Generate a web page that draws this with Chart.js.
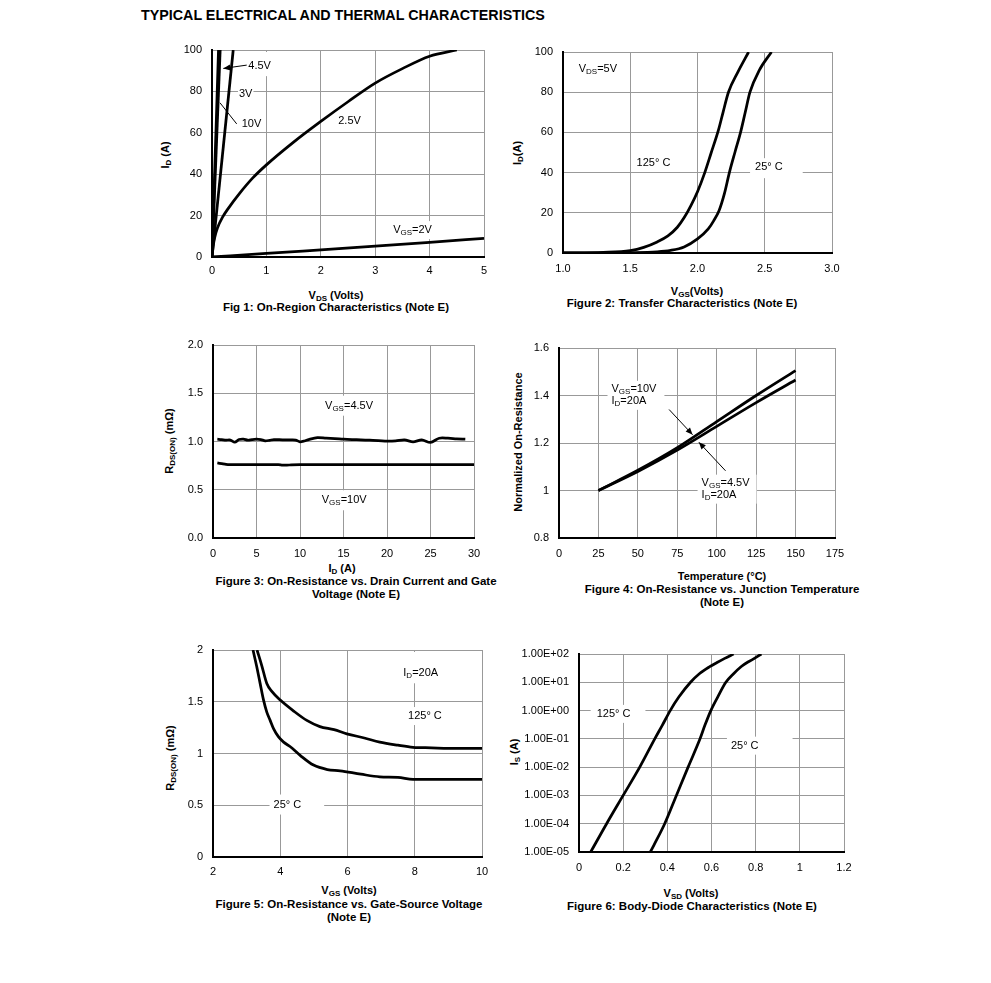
<!DOCTYPE html>
<html lang="en">
<head>
<meta charset="UTF-8">
<title>Typical Electrical and Thermal Characteristics</title>
<script src="https://cdn.jsdelivr.net/npm/chart.js"></script>
<style>
    body {
        margin: 0;
        background: #fff;
        font-family: Arial, "Liberation Sans", sans-serif;
        color: #000;
    }
    #page {
        position: relative;
        width: 991px;
        height: 983px;
    }
    canvas {
        position: absolute;
    }
    .title {
        position: absolute;
        font-weight: bold;
        font-size: 14.3px;
        white-space: nowrap;
    }
    .lbl {
        position: absolute;
        font-weight: bold;
        font-size: 11px;
        white-space: nowrap;
        text-align: center;
        line-height: 12px;
        transform: translate(-50%, -50%);
    }
    .cap {
        font-size: 11.5px;
        line-height: 12.5px;
    }
    .rot {
        transform: translate(-50%, -50%) rotate(-90deg);
    }
    sub {
        font-size: 8px;
        vertical-align: -2px;
        line-height: 0;
    }
</style>
</head>
<body>
<div id="page">
    <div class="title" style="left:141px; top:7px;">TYPICAL ELECTRICAL AND THERMAL CHARACTERISTICS</div>

    <div class="lbl rot" style="left:165px; top:155px;">I<sub>D</sub> (A)</div>
    <div class="lbl" style="left:336px; top:295px;">V<sub>DS</sub> (Volts)</div>
    <div class="lbl cap" style="left:336px; top:307px;">Fig 1: On-Region Characteristics (Note E)</div>

    <div class="lbl rot" style="left:517px; top:153px;">I<sub>D</sub>(A)</div>
    <div class="lbl" style="left:697px; top:291px;">V<sub>GS</sub>(Volts)</div>
    <div class="lbl cap" style="left:682px; top:303px;">Figure 2: Transfer Characteristics (Note E)</div>

    <div class="lbl rot" style="left:169px; top:441px;">R<sub>DS(ON)</sub> (m&Omega;)</div>
    <div class="lbl" style="left:342px; top:568px;">I<sub>D</sub> (A)</div>
    <div class="lbl cap" style="left:356px; top:587px;">Figure 3: On-Resistance vs. Drain Current and Gate<br>Voltage (Note E)</div>

    <div class="lbl rot" style="left:518px; top:442px;">Normalized On-Resistance</div>
    <div class="lbl" style="left:722px; top:576px;">Temperature (°C)</div>
    <div class="lbl cap" style="left:722px; top:595px;">Figure 4: On-Resistance vs. Junction Temperature<br>(Note E)</div>

    <div class="lbl rot" style="left:170px; top:758px;">R<sub>DS(ON)</sub> (m&Omega;)</div>
    <div class="lbl" style="left:349px; top:890px;">V<sub>GS</sub> (Volts)</div>
    <div class="lbl cap" style="left:349px; top:910px;">Figure 5: On-Resistance vs. Gate-Source Voltage<br>(Note E)</div>

    <div class="lbl rot" style="left:514px; top:752px;">I<sub>S</sub> (A)</div>
    <div class="lbl" style="left:691px; top:893px;">V<sub>SD</sub> (Volts)</div>
    <div class="lbl cap" style="left:692px; top:906px;">Figure 6: Body-Diode Characteristics (Note E)</div>
</div>

<script>
    // ---- Fig 1: On-region characteristics ----
    const f1Vds10 = [0, 0.12];
    const f1Id10 = [0, 100];
    const f1Vds45 = [0, 0.15];
    const f1Id45 = [0, 100];
    const f1Vds3 = [0, 0.39];
    const f1Id3 = [0, 100];
    const f1Vds25 = [0, 0.02, 0.05, 0.1, 0.2, 0.3, 0.5, 0.75, 1, 1.5, 2, 2.5, 3, 3.5, 4, 4.5];
    const f1Id25 = [0, 5, 9.5, 14, 19.5, 23.5, 30.5, 38.2, 44.5, 55.5, 65.5, 75, 84, 91, 97, 100];
    const f1Vds2 = [0, 1, 2, 3, 4, 5];
    const f1Id2 = [0, 1.7, 3.5, 5.3, 7.1, 9];

    // ---- Fig 2: transfer characteristics ----
    const f2Vgs125 = [1.0, 1.3, 1.5, 1.6, 1.7, 1.78, 1.85, 1.9, 1.95, 2.0, 2.054, 2.1, 2.155, 2.19, 2.23, 2.3, 2.38];
    const f2Id125 = [0, 0.3, 1.2, 2.8, 5.5, 8.5, 12.8, 17.5, 23.5, 30.5, 40, 49.5, 61, 70, 80, 90, 100];
    const f2Vgs25 = [1.0, 1.5, 1.7, 1.8, 1.9, 2.0, 2.08, 2.12, 2.16, 2.2, 2.237, 2.28, 2.32, 2.355, 2.39, 2.46, 2.55];
    const f2Id25 = [0, 0.2, 0.6, 1.3, 3, 7, 12, 16, 21, 29.5, 40, 50.5, 60, 70, 80, 91, 100];

    // ---- Fig 3: Rds(on) vs drain current ----
    const f3Id45 = [0.5, 1, 1.5, 2, 2.5, 3, 3.5, 4, 4.5, 5, 5.5, 6, 6.5, 7, 8, 9, 9.5, 10, 10.5, 11, 12, 13, 14, 15, 16, 17, 18, 19, 20, 21, 22, 23, 24, 25, 26, 27, 28, 29];
    const f3R45 = [1.024, 1.02, 1.015, 1.015, 0.993, 1.02, 1.025, 1.013, 1.02, 1.024, 1.02, 1.007, 1.012, 1.02, 1.017, 1.017, 1.015, 0.997, 1.005, 1.02, 1.04, 1.034, 1.03, 1.024, 1.02, 1.017, 1.013, 1.01, 1.003, 1.006, 1.017, 0.997, 1.017, 0.99, 1.034, 1.034, 1.028, 1.024];
    const f3Id10 = [0.5, 1, 1.5, 2, 5, 7.5, 8, 8.5, 9, 10, 15, 20, 25, 30];
    const f3R10 = [0.778, 0.77, 0.762, 0.76, 0.76, 0.76, 0.755, 0.755, 0.758, 0.76, 0.76, 0.76, 0.76, 0.76];

    // ---- Fig 4: normalized Rds(on) vs temperature ----
    const f4Temp = [25, 50, 75, 100, 125, 150];
    const f4R10 = [1.0, 1.085, 1.18, 1.29, 1.40, 1.505];
    const f4R45 = [1.0, 1.08, 1.17, 1.27, 1.37, 1.465];

    // ---- Fig 5: Rds(on) vs gate-source voltage ----
    const f5Vgs125 = [3.31, 3.45, 3.6, 3.75, 4.0, 4.4, 4.79, 5.18, 5.6, 5.98, 6.5, 6.96, 7.5, 7.95, 8.5, 9, 10];
    const f5R125 = [2.0, 1.85, 1.677, 1.6, 1.516, 1.41, 1.32, 1.26, 1.23, 1.19, 1.15, 1.11, 1.08, 1.06, 1.055, 1.05, 1.05];
    const f5Vgs25 = [3.19, 3.3, 3.4, 3.5, 3.6, 3.7, 3.8, 3.95, 4.1, 4.3, 4.6, 4.99, 5.4, 5.78, 6.4, 6.96, 7.5, 7.95, 8.5, 10];
    const f5R25 = [2.0, 1.84, 1.68, 1.52, 1.4, 1.32, 1.24, 1.16, 1.11, 1.065, 0.98, 0.888, 0.845, 0.833, 0.80, 0.775, 0.77, 0.75, 0.75, 0.75];

    // ---- Fig 6: body diode ----
    const f6Vsd125 = [0.053, 0.125, 0.2, 0.275, 0.343, 0.377, 0.413, 0.452, 0.505, 0.545, 0.59, 0.625, 0.66, 0.70];
    const f6Is125 = [1e-5, 1e-4, 1e-3, 1e-2, 1e-1, 0.3, 1, 3, 10, 20, 35, 50, 70, 100];
    const f6Vsd25 = [0.323, 0.34, 0.388, 0.441, 0.494, 0.548, 0.57, 0.597, 0.628, 0.665, 0.70, 0.735, 0.765, 0.785, 0.826];
    const f6Is25 = [1e-5, 1.8e-5, 1e-4, 1e-3, 1e-2, 1e-1, 0.3, 1, 3, 10, 20, 36, 52, 63, 100];
    const f6Decades = [1e-5, 1e-4, 1e-3, 1e-2, 1e-1, 1, 10, 100];

    // plot areas on the page: left, top, right, bottom
    const plotRects = {
        c1: [212, 50, 484, 257],
        c2: [563, 52, 832, 253],
        c3: [213, 345, 474, 538],
        c4: [559, 348, 835, 538],
        c5: [213, 650, 482, 857],
        c6: [579, 654, 844, 852]
    };
    const AXIS_W = 60, AXIS_H = 30, PAD_T = 12, PAD_R = 20;

    // text notes and pointer lines, in data units
    const notes = {
        c1: {
            labels: [
                { x: 0.667, y: 92.2, lines: ['4.5V'], pad: [3, 4, 14, 4] },
                { x: 0.496, y: 78.8, lines: ['3V'], pad: [1, 1, 1, 1] },
                { x: 0.545, y: 64.4, lines: ['10V'], pad: [2, 2, 2, 2] },
                { x: 2.32, y: 65.5, lines: ['2.5V'], pad: [3, 3, 3, 3] },
                { x: 3.33, y: 13, lines: ['V_{GS}=2V'], pad: [3, 3, 3, 3] }
            ],
            arrows: [
                { x1: 0.638, y1: 92.7, x2: 0.208, y2: 91.1, head: true },
                { x1: 0.454, y1: 64.3, x2: 0.147, y2: 74.5, head: false }
            ]
        },
        c2: {
            labels: [
                { x: 1.117, y: 91.8, lines: ['V_{DS}=5V'], pad: [3, 3, 3, 3] },
                { x: 1.547, y: 44.6, lines: ['125° C'], pad: [3, 3, 2, 2] },
                { x: 2.428, y: 42.7, lines: ['25° C'], pad: [5, 20, 3, 5] }
            ],
            arrows: []
        },
        c3: {
            labels: [
                { x: 12.88, y: 1.371, lines: ['V_{GS}=4.5V'], pad: [4, 4, 4, 4] },
                { x: 12.5, y: 0.391, lines: ['V_{GS}=10V'], pad: [4, 4, 4, 4] }
            ],
            arrows: []
        },
        c4: {
            labels: [
                { x: 33.3, y: 1.428, lines: ['V_{GS}=10V', 'I_{D}=20A'], pad: [4, 8, 2, 3] },
                { x: 90.4, y: 1.033, lines: ['V_{GS}=4.5V', 'I_{D}=20A'], pad: [4, 7, 2, 3] }
            ],
            arrows: [
                { x1: 69.8, y1: 1.341, x2: 84.7, y2: 1.235, head: true },
                { x1: 105.6, y1: 1.083, x2: 88.7, y2: 1.203, head: true }
            ]
        },
        c5: {
            labels: [
                { x: 7.66, y: 1.775, lines: ['I_{D}=20A'], pad: [4, 4, 20, 4] },
                { x: 7.8, y: 1.362, lines: ['125° C'], pad: [4, 4, 3, 3] },
                { x: 3.8, y: 0.507, lines: ['25° C'], pad: [4, 23, 4, 4] }
            ],
            arrows: []
        },
        c6: {
            labels: [
                { x: 0.080, y: 0.764, lines: ['125° C'], pad: [6, 15, 3, 3] },
                { x: 0.688, y: 0.0575, lines: ['25° C'], pad: [4, 34, 3, 3] }
            ],
            arrows: []
        }
    };

    Chart.defaults.font.family = 'Arial, "Liberation Sans", sans-serif';
    Chart.defaults.font.size = 11;
    Chart.defaults.color = '#000';

    // "V_{GS}=2V" -> pieces with subscripts
    function parseRich(s) {
        const parts = [];
        const re = /_\{([^}]*)\}/g;
        let last = 0, m;
        while ((m = re.exec(s))) {
            if (m.index > last) parts.push({ t: s.slice(last, m.index), sub: false });
            parts.push({ t: m[1], sub: true });
            last = re.lastIndex;
        }
        if (last < s.length) parts.push({ t: s.slice(last), sub: false });
        return parts;
    }
    const MAIN_FONT = '11px Arial, "Liberation Sans", sans-serif';
    const SUB_FONT = '8px Arial, "Liberation Sans", sans-serif';

    function richWidth(ctx, parts) {
        let w = 0;
        parts.forEach(p => {
            ctx.font = p.sub ? SUB_FONT : MAIN_FONT;
            w += ctx.measureText(p.t).width;
        });
        return w;
    }
    function drawRich(ctx, x, y, parts) {
        ctx.textBaseline = 'middle';
        ctx.textAlign = 'left';
        ctx.fillStyle = '#000';
        parts.forEach(p => {
            ctx.font = p.sub ? SUB_FONT : MAIN_FONT;
            ctx.fillText(p.t, x, p.sub ? y + 3 : y);
            x += ctx.measureText(p.t).width;
        });
    }

    const notesPlugin = {
        id: 'notes',
        beforeDatasetsDraw(chart) {
            const n = notes[chart.canvas.id];
            if (!n) return;
            const { ctx, chartArea: a } = chart;
            const sx = chart.scales.x, sy = chart.scales.y;
            const lh = 12;
            ctx.save();
            n.labels.forEach(lb => {
                const px = sx.getPixelForValue(lb.x), py = sy.getPixelForValue(lb.y);
                const rows = lb.lines.map(parseRich);
                const w = Math.max(...rows.map(r => richWidth(ctx, r)));
                const p = lb.pad;
                const l = Math.max(px - p[0], a.left + 2);
                const t = Math.max(py - 6 - p[2], a.top + 2);
                const r = Math.min(px + w + p[1], a.right - 2);
                const b = Math.min(py + (rows.length - 1) * lh + 6 + p[3], a.bottom - 2);
                ctx.fillStyle = '#fff';
                ctx.fillRect(l, t, r - l, b - t);
                rows.forEach((row, i) => drawRich(ctx, px, py + i * lh, row));
            });
            ctx.restore();
        },
        afterDatasetsDraw(chart) {
            const n = notes[chart.canvas.id];
            if (!n) return;
            const ctx = chart.ctx;
            const sx = chart.scales.x, sy = chart.scales.y;
            ctx.save();
            ctx.strokeStyle = '#000';
            ctx.fillStyle = '#000';
            ctx.lineWidth = 1;
            n.arrows.forEach(ar => {
                const x1 = sx.getPixelForValue(ar.x1), y1 = sy.getPixelForValue(ar.y1);
                const x2 = sx.getPixelForValue(ar.x2), y2 = sy.getPixelForValue(ar.y2);
                ctx.beginPath();
                ctx.moveTo(x1, y1);
                ctx.lineTo(x2, y2);
                ctx.stroke();
                if (ar.head) {
                    const ang = Math.atan2(y2 - y1, x2 - x1);
                    const L = 7, W = 3;
                    ctx.beginPath();
                    ctx.moveTo(x2, y2);
                    ctx.lineTo(x2 - L * Math.cos(ang) + W * Math.sin(ang), y2 - L * Math.sin(ang) - W * Math.cos(ang));
                    ctx.lineTo(x2 - L * Math.cos(ang) - W * Math.sin(ang), y2 - L * Math.sin(ang) + W * Math.cos(ang));
                    ctx.closePath();
                    ctx.fill();
                }
            });
            ctx.restore();
        }
    };
    Chart.register(notesPlugin);

    function series(xs, ys, smooth) {
        const ds = {
            data: xs.map((x, i) => ({ x: x, y: ys[i] })),
            borderColor: '#000',
            borderWidth: 2.75,
            pointRadius: 0,
            fill: false
        };
        if (smooth === 'mono') ds.cubicInterpolationMode = 'monotone';
        else if (smooth) ds.tension = smooth;
        return ds;
    }

    // fixed axis sizes so that the plot area lands where the reference has it
    function fitX(s) {
        s.height = AXIS_H;
        s.paddingLeft = 0;
        s.paddingRight = 0;
    }
    function fitY(s) {
        s.width = AXIS_W;
        s.paddingTop = 0;
        s.paddingBottom = 0;
    }

    function axis(kind, min, max, step, fmt, pad) {
        return {
            type: 'linear',
            min: min,
            max: max,
            ticks: { stepSize: step, autoSkip: false, padding: pad, callback: fmt, font: { size: 11 } },
            grid: { color: '#999', lineWidth: 1, drawTicks: false },
            border: { color: '#000', width: 2 },
            afterFit: kind === 'x' ? fitX : fitY
        };
    }
    const num = v => String(Math.round(v * 10) / 10);
    const fix1 = v => (Math.round(v * 10) / 10).toFixed(1);
    function sci(v) {
        const [m, e] = v.toExponential(2).split('e');
        const n = parseInt(e, 10);
        return m.toUpperCase() + 'E' + (n < 0 ? '-' : '+') + String(Math.abs(n)).padStart(2, '0');
    }

    function makeChart(id, datasets, xs, ys) {
        const r = plotRects[id];
        const cv = document.createElement('canvas');
        cv.id = id;
        cv.width = r[2] - r[0] + AXIS_W + PAD_R;
        cv.height = r[3] - r[1] + AXIS_H + PAD_T;
        cv.style.left = (r[0] - AXIS_W) + 'px';
        cv.style.top = (r[1] - PAD_T) + 'px';
        document.getElementById('page').appendChild(cv);
        return new Chart(cv, {
            type: 'line',
            data: { datasets: datasets },
            options: {
                responsive: false,
                animation: false,
                devicePixelRatio: 1,
                events: [],
                layout: { padding: { top: PAD_T, right: PAD_R, left: 0, bottom: 0 } },
                plugins: { legend: { display: false }, tooltip: { enabled: false } },
                scales: { x: xs, y: ys }
            }
        });
    }

    makeChart('c1', [
        series(f1Vds10, f1Id10),
        series(f1Vds45, f1Id45),
        series(f1Vds3, f1Id3),
        series(f1Vds25, f1Id25, 'mono'),
        series(f1Vds2, f1Id2, 'mono')
    ], axis('x', 0, 5, 1, num, 7), axis('y', 0, 100, 20, num, 10));

    makeChart('c2', [
        series(f2Vgs125, f2Id125, 'mono'),
        series(f2Vgs25, f2Id25, 'mono')
    ], axis('x', 1, 3, 0.5, fix1, 9), axis('y', 0, 100, 20, num, 10));

    makeChart('c3', [
        series(f3Id45, f3R45, 0.3),
        series(f3Id10, f3R10, 0.3)
    ], axis('x', 0, 30, 5, num, 9), axis('y', 0, 2, 0.5, fix1, 10));

    makeChart('c4', [
        series(f4Temp, f4R10, 'mono'),
        series(f4Temp, f4R45, 'mono')
    ], axis('x', 0, 175, 25, num, 9), axis('y', 0.8, 1.6, 0.2, num, 10));

    makeChart('c5', [
        series(f5Vgs125, f5R125, 'mono'),
        series(f5Vgs25, f5R25, 'mono')
    ], axis('x', 2, 10, 2, num, 8), axis('y', 0, 2, 0.5, num, 10));

    const y6 = axis('y', 1e-5, 100, null, sci, 10);
    y6.type = 'logarithmic';
    delete y6.ticks.stepSize;
    y6.afterBuildTicks = s => { s.ticks = f6Decades.map(v => ({ value: v })); };
    makeChart('c6', [
        series(f6Vsd125, f6Is125, 'mono'),
        series(f6Vsd25, f6Is25, 'mono')
    ], axis('x', 0, 1.2, 0.2, num, 9), y6);
</script>
</body>
</html>
